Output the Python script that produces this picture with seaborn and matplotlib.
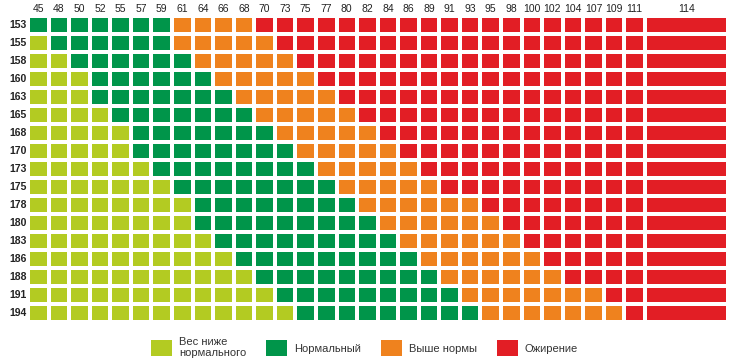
import numpy as np
import pandas as pd
import seaborn as sns
import matplotlib.pyplot as plt
from matplotlib.colors import ListedColormap
from matplotlib.patches import Patch

# Weight columns (kg) and height rows (cm)
weights = [45, 48, 50, 52, 55, 57, 59, 61, 64, 66, 68, 70, 73, 75, 77, 80,
           82, 84, 86, 89, 91, 93, 95, 98, 100, 102, 104, 107, 109, 111, 114]
heights = [153, 155, 158, 160, 163, 165, 168, 170, 173, 175, 178, 180,
           183, 186, 188, 191, 194]

# Number of cells per row in each category (left to right), rest is obesity
underweight_cells = [0, 1, 2, 3, 3, 4, 5, 5, 6, 7, 8, 8, 9, 10, 11, 12, 13]
normal_cells = [7, 6, 6, 6, 7, 7, 7, 8, 8, 8, 8, 9, 9, 9, 9, 9, 9]
overweight_cells = [4, 5, 5, 5, 5, 5, 5, 5, 5, 5, 6, 6, 6, 6, 6, 7, 7]

labels = ['Вес ниже\nнормального', 'Нормальный', 'Выше нормы', 'Ожирение']
colors = ['#B3CB22', '#00954A', '#EF821E', '#E21E25']

grid = []
for u, n, o in zip(underweight_cells, normal_cells, overweight_cells):
    row = [0] * u + [1] * n + [2] * o
    row += [3] * (len(weights) - len(row))
    grid.append(row)
df = pd.DataFrame(grid, index=heights, columns=weights)

sns.set_theme(style='white')
plt.rcParams['font.family'] = ['Liberation Sans', 'DejaVu Sans']

cmap = ListedColormap(colors)
opts = dict(cmap=cmap, vmin=-0.5, vmax=3.5, cbar=False,
            linewidths=1.5, linecolor='white')

fig = plt.figure(figsize=(7.33, 3.64), dpi=100)
ax = fig.add_axes([28 / 733, 42 / 364, 617 / 733, 306 / 364])
ax2 = fig.add_axes([645 / 733, 42 / 364, 83 / 733, 306 / 364])

# last weight column is drawn wide, in its own axes
sns.heatmap(df.iloc[:, :-1], ax=ax, **opts)
sns.heatmap(df.iloc[:, -1:], ax=ax2, yticklabels=False, **opts)

for a in (ax, ax2):
    a.xaxis.tick_top()
    a.tick_params(axis='x', length=0, pad=1.5, labelsize=7.5,
                  labelcolor='#222222', rotation=0)
    a.set_xlabel('')
    a.set_ylabel('')

ax.tick_params(axis='y', length=0, pad=1, labelsize=7.5,
               labelcolor='#222222', rotation=0)
for lab in ax.get_yticklabels():
    lab.set_fontweight('bold')

handles = [Patch(facecolor=c, edgecolor='none') for c in colors]
fig.legend(handles, labels, loc='center', bbox_to_anchor=(0.497, 0.045),
           ncol=4, frameon=False, fontsize=8, labelcolor='#333333',
           handlelength=1.9, handleheight=1.8, handletextpad=0.6,
           columnspacing=1.8)

fig.savefig('out.png', dpi=100)
